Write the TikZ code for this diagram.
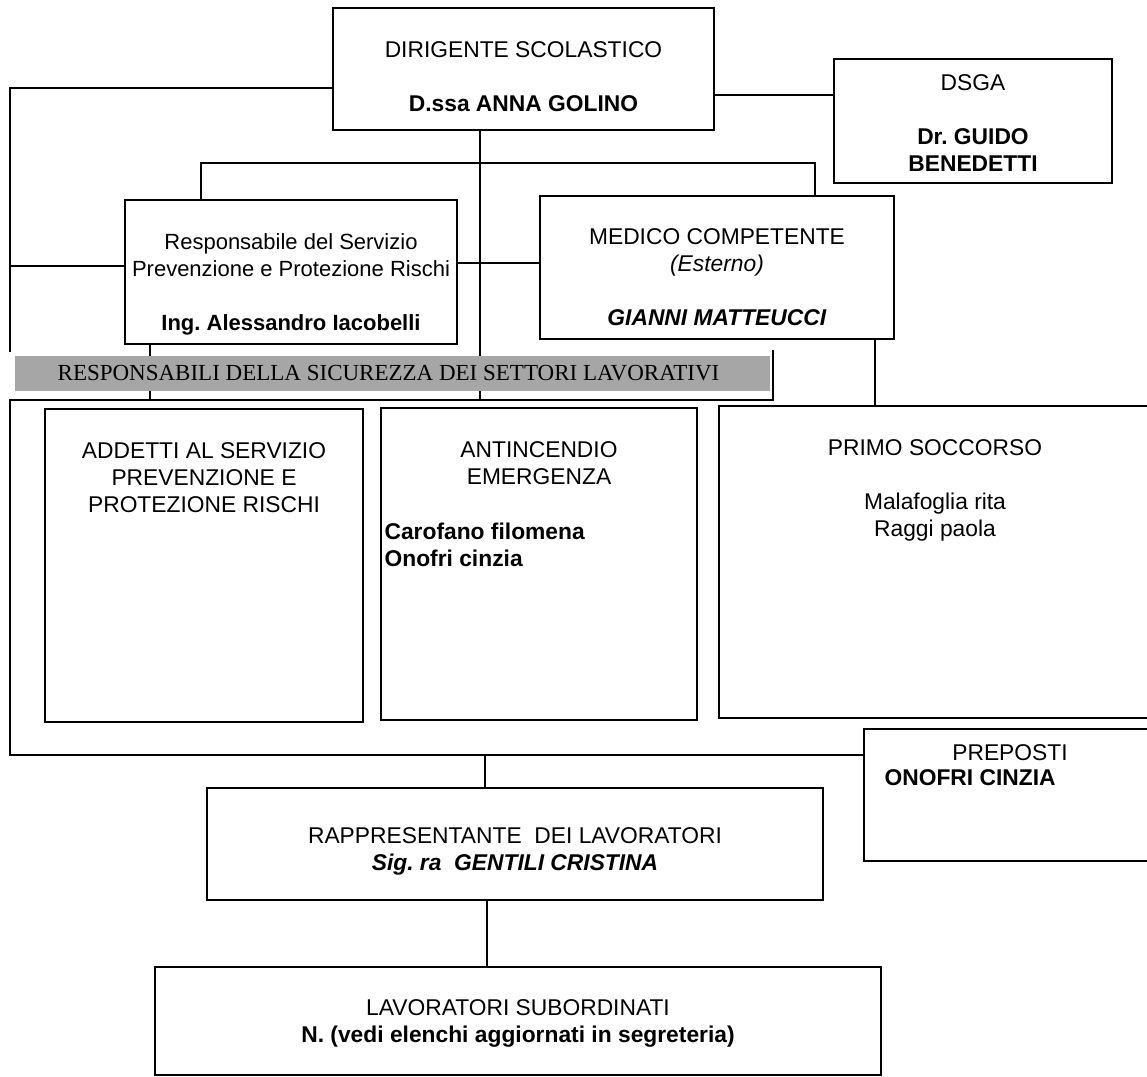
\documentclass[tikz,border=0pt]{standalone}
\usepackage{fontspec}
\setmainfont{Liberation Sans}
\newfontfamily\bannerfont{Liberation Serif}
\usepackage{xcolor}
\usetikzlibrary{fit,positioning}
\frenchspacing

\begin{document}
\begin{tikzpicture}[x=0.5pt,y=-0.5pt]
\tikzset{org box/.style={draw,line width=0.8pt,inner sep=0pt}}
\tikzset{org text/.style={align=center,inner sep=0pt,font=\fontsize{11.4}{13.5}\selectfont}}
\tikzset{org line/.style={line width=0.8pt}}
\tikzset{banner/.style={fill=black!35,inner sep=0pt}}
\tikzset{banner text/.style={inner sep=0pt,font=\bannerfont\fontsize{11.5}{13.5}\selectfont}}

\useasboundingbox (0,0) rectangle (1147,1077);

\node[org box,fit={(333,8) (714,130)}] (dir) {};
\node[org box,fit={(834,59) (1112,183)}] (dsga) {};
\node[org box,fit={(125,200) (457,344)}] (rspp) {};
\node[org box,fit={(540,196) (894,339)}] (medico) {};
\node[org box,fit={(45,409) (363,722)}] (addetti) {};
\node[org box,fit={(381,408) (697,720)}] (antinc) {};
\node[org box,fit={(719,406) (1151,718)}] (primo) {};
\node[org box,fit={(864,729) (1156,861)}] (preposti) {};
\node[org box,fit={(207,788) (823,900)}] (rapp) {};
\node[org box,fit={(155,967) (881,1075)}] (sub) {};

\coordinate (gap top) at (10,352);
\coordinate (shadow top) at (773,350);
\coordinate (frame nw) at (10,400);
\coordinate (frame sw) at (10,755);

\draw[org line] (dir.west |- 0,88) -| (gap top);
\draw[org line] (dir.east |- 0,95) -- (dsga.west |- 0,95);
\draw[org line] (rspp.north -| 201,0) -- ++(0,-36) -| (medico.north -| 815,0);
\draw[org line] (dir.south -| 480,0) -- ++(0,270);
\draw[org line] (rspp.west |- 0,266) -- ++(-115,0);
\draw[org line] (rspp.east |- 0,263) -- (medico.west |- 0,263);
\draw[org line] (rspp.south -| 150,0) -- ++(0,56);
\draw[org line] (medico.south -| 875,0) -- (primo.north -| 875,0);
\draw[org line] (rapp.north -| 485,0) -- ++(0,-33);
\draw[org line] (rapp.south -| 487,0) -- (sub.north -| 487,0);

\node[banner,fit={(15,356) (770,391)}] (band) {};
\node[banner text,xshift=-2pt] (bandtxt) at (band.center) {RESPONSABILI DELLA SICUREZZA DEI SETTORI LAVORATIVI};
\draw[org line] (shadow top) -- (shadow top |- frame nw) -- (frame nw) -- (frame sw) -- (frame sw -| preposti.west);

\node[org text,below=17pt of dir.north] (dirtxt) {DIRIGENTE SCOLASTICO\\[13.5pt]\textbf{D.ssa ANNA GOLINO}};
\node[org text,below=8pt of dsga.north] (dsgatxt) {DSGA\\[13.5pt]\textbf{Dr. GUIDO}\\\textbf{BENEDETTI}};
\node[org text,font=\fontsize{11}{13.5}\selectfont,below=17pt of rspp.north] (rspptxt) {Responsabile del Servizio\\Prevenzione e Protezione Rischi\\[13.5pt]\textbf{Ing. Alessandro Iacobelli}};
\node[org text,below=16.5pt of medico.north] (medicotxt) {MEDICO COMPETENTE\\\textit{(Esterno)}\\[13.5pt]\textbf{\textit{GIANNI MATTEUCCI}}};
\node[org text,below=17pt of addetti.north] (addettitxt) {ADDETTI AL SERVIZIO\\PREVENZIONE E\\PROTEZIONE RISCHI};
\node[org text,below=17pt of antinc.north] (antinctxt) {ANTINCENDIO\\EMERGENZA};
\node[org text,align=left,below right=57.5pt and 2pt of antinc.north west] (antincnames) {\textbf{Carofano filomena}\\\textbf{Onofri cinzia}};
\node[org text,below=17pt of primo.north] (primotxt) {PRIMO SOCCORSO\\[13.5pt]Malafoglia rita\\Raggi paola};
\node[org text,below=8pt of preposti.north] (prepostitxt) {PREPOSTI};
\node[org text,align=left,below right=20.5pt and 10.5pt of preposti.north west] (prepostinames) {\textbf{ONOFRI CINZIA}};
\node[org text,below=20pt of rapp.north] (rapptxt) {RAPPRESENTANTE\ \ DEI LAVORATORI\\\textbf{\textit{Sig.\ ra\ \ GENTILI CRISTINA}}};
\node[org text,below=16.5pt of sub.north] (subtxt) {LAVORATORI SUBORDINATI\\\textbf{N. (vedi elenchi aggiornati in segreteria)}};

\end{tikzpicture}
\end{document}
